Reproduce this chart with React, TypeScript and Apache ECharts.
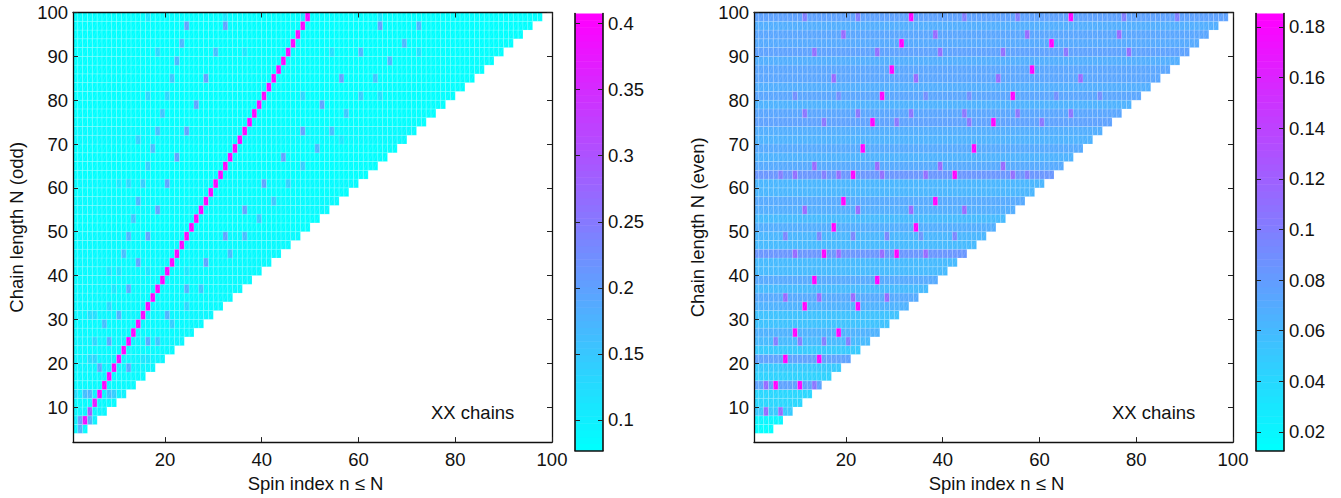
import React, { useEffect, useRef } from "react";
import * as echarts from "echarts";

// lower edge of each row on the "Chain length" axis, bottom to top
const rowEdges = [4,6,8,10,12,14,16,18,20,22,24,26,28,30,32,34,36,38,40,42,44,46,48,50,52,54,56,58,60,62,64,66,68,70,72,74,76,78,80,82,84,86,88,90,92,94,96,98];

// background level of each row (same order as rowEdges)
const leftBase = [0.085,0.095,0.088,0.085,0.095,0.085,0.086,0.09,0.088,0.084,0.09,0.083,0.085,0.088,0.083,0.084,0.087,0.082,0.085,0.082,0.083,0.082,0.084,0.081,0.081,0.082,0.083,0.081,0.085,0.08,0.081,0.08,0.081,0.082,0.082,0.08,0.08,0.08,0.081,0.079,0.081,0.079,0.079,0.081,0.079,0.079,0.08,0.08];
const rightBase = [0.015,0.02,0.05,0.04,0.042,0.075,0.045,0.05,0.075,0.05,0.06,0.065,0.055,0.055,0.065,0.07,0.06,0.07,0.06,0.06,0.085,0.06,0.063,0.068,0.06,0.068,0.07,0.062,0.062,0.085,0.07,0.065,0.07,0.065,0.068,0.075,0.072,0.066,0.072,0.068,0.072,0.072,0.068,0.075,0.07,0.072,0.068,0.075];

// strong ridge of the odd chains: [n, row, value]
const leftRidge = [[3,6,0.385],[4,8,0.29],[5,10,0.37],[6,12,0.4],[7,14,0.4],[8,16,0.4],[9,18,0.4],[10,20,0.39],[11,22,0.4],[12,24,0.4],[13,26,0.4],[14,28,0.4],[15,30,0.4],[16,32,0.4],[17,34,0.4],[18,36,0.4],[19,38,0.4],[20,40,0.4],[21,42,0.4],[22,44,0.4],[23,46,0.4],[24,48,0.4],[25,50,0.4],[26,52,0.4],[27,54,0.4],[28,56,0.4],[29,58,0.4],[30,60,0.4],[31,62,0.4],[32,64,0.4],[33,66,0.4],[34,68,0.4],[35,70,0.4],[36,72,0.4],[37,74,0.4],[38,76,0.4],[39,78,0.4],[40,80,0.4],[41,82,0.4],[42,84,0.4],[43,86,0.4],[44,88,0.4],[45,90,0.4],[46,92,0.4],[47,94,0.4],[48,96,0.4],[49,98,0.4]];
// weaker spots of the odd chains: [n, row, value]
const leftSpots = [[2,4,0.17],[2,6,0.2],[4,6,0.18],[3,12,0.16],[4,12,0.17],[8,12,0.16],[9,12,0.14],[1,12,0.12],[6,18,0.19],[12,18,0.19],[4,20,0.12],[5,20,0.13],[15,20,0.11],[16,20,0.11],[8,24,0.19],[16,24,0.19],[18,24,0.15],[5,24,0.13],[7,28,0.16],[21,28,0.14],[10,30,0.18],[20,30,0.18],[4,30,0.12],[5,30,0.12],[8,32,0.13],[24,32,0.13],[12,36,0.19],[24,36,0.18],[27,36,0.15],[9,36,0.11],[8,40,0.12],[10,40,0.12],[16,40,0.11],[24,40,0.11],[14,42,0.2],[28,42,0.2],[11,44,0.16],[33,44,0.16],[12,48,0.17],[16,48,0.2],[32,48,0.2],[36,48,0.16],[13,52,0.15],[39,52,0.15],[18,54,0.2],[36,54,0.2],[14,56,0.17],[42,56,0.15],[20,60,0.2],[40,60,0.2],[15,60,0.14],[45,60,0.14],[12,60,0.13],[10,60,0.11],[16,64,0.14],[48,64,0.14],[22,66,0.2],[44,66,0.2],[17,68,0.16],[51,68,0.17],[14,70,0.14],[56,70,0.11],[18,72,0.16],[24,72,0.2],[48,72,0.2],[54,72,0.16],[19,76,0.15],[57,76,0.15],[26,78,0.2],[52,78,0.2],[16,80,0.13],[20,80,0.13],[48,80,0.13],[60,80,0.14],[64,80,0.12],[21,84,0.15],[28,84,0.2],[56,84,0.2],[63,84,0.15],[22,88,0.17],[66,88,0.17],[18,90,0.13],[30,90,0.16],[36,90,0.11],[54,90,0.12],[60,90,0.17],[72,90,0.12],[23,92,0.17],[69,92,0.17],[24,96,0.2],[32,96,0.2],[64,96,0.2],[72,96,0.17],[16,98,0.11],[32,98,0.11],[48,98,0.11],[64,98,0.11]];

// strong spots of the even chains: [n, row, value]
const rightHot = [[33,98],[66,98],[31,92],[62,92],[29,86],[58,86],[27,80],[54,80],[25,74],[50,74],[23,68],[46,68],[21,62],[42,62],[19,56],[38,56],[17,50],[34,50],[15,44],[30,44],[13,38],[26,38],[11,32],[22,32],[9,26],[18,26],[7,20],[14,20],[5,14],[10,14]];
const rightHotValue = 0.185;
// weaker spots of the even chains: [n, row, value]
const rightSpots = [[11,98,0.1],[22,98,0.1],[44,98,0.1],[55,98,0.1],[77,98,0.1],[88,98,0.1],[19,94,0.115],[38,94,0.115],[57,94,0.115],[76,94,0.115],[13,90,0.11],[26,90,0.11],[39,90,0.11],[52,90,0.11],[65,90,0.105],[78,90,0.11],[17,84,0.115],[34,84,0.115],[51,84,0.115],[68,84,0.115],[9,80,0.09],[18,80,0.09],[36,80,0.09],[45,80,0.09],[63,80,0.09],[72,80,0.09],[11,76,0.105],[22,76,0.105],[33,76,0.105],[44,76,0.105],[55,76,0.105],[66,76,0.105],[15,74,0.105],[30,74,0.105],[45,74,0.105],[60,74,0.105],[13,64,0.115],[26,64,0.115],[39,64,0.115],[52,64,0.115],[9,62,0.11],[18,62,0.11],[27,62,0.11],[36,62,0.11],[54,62,0.11],[57,62,0.1],[6,62,0.1],[15,62,0.1],[11,54,0.115],[22,54,0.115],[33,54,0.115],[44,54,0.115],[7,48,0.095],[14,48,0.095],[21,48,0.095],[28,48,0.095],[35,48,0.085],[42,48,0.095],[9,44,0.115],[18,44,0.115],[27,44,0.115],[36,44,0.115],[7,34,0.115],[14,34,0.115],[21,34,0.115],[28,34,0.115],[5,24,0.1],[10,24,0.1],[15,24,0.1],[20,24,0.1],[3,14,0.115],[13,14,0.105],[3,8,0.115],[6,8,0.115]];

const leftRange = [0.0768, 0.4077];
const rightRange = [0.01265, 0.1853];
const leftBarTicks = [0.1, 0.15, 0.2, 0.25, 0.3, 0.35, 0.4];
const rightBarTicks = [0.02, 0.04, 0.06, 0.08, 0.1, 0.12, 0.14, 0.16, 0.18];
const xTicks = [20, 40, 60, 80, 100];
const yTicks = [10, 20, 30, 40, 50, 60, 70, 80, 90, 100];
const FONT = "Liberation Sans";
const FS = 18.5;
const LEVELS = 64;

function cool(v: number, range: number[]) {
  let t = (v - range[0]) / (range[1] - range[0]);
  t = Math.max(0, Math.min(1, t));
  const k = Math.min(LEVELS - 1, Math.floor(t * LEVELS)) / (LEVELS - 1);
  return `rgb(${Math.round(255 * k)},${Math.round(255 * (1 - k))},255)`;
}

function cells(base: number[], extra: number, peaks: number[][]) {
  const out: number[][] = [];
  rowEdges.forEach((row, r) => {
    for (let n = 1; n <= row - 1 + extra; n++) out.push([n, row, base[r]]);
  });
  const index = new Map(out.map((c) => [c[0] + ":" + c[1], c]));
  peaks.forEach(([n, row, v]) => {
    const c = index.get(n + ":" + row);
    if (c) c[2] = v;
  });
  return out;
}

const cellRenderer = (range: number[]) => (_p: any, api: any) => {
  const n = api.value(0), row = api.value(1), v = api.value(2);
  const a = api.coord([n, row]);
  const b = api.coord([n + 1, Math.min(row + 2, 100)]);
  const fill = cool(v, range);
  return {
    type: "group",
    children: [
      { type: "rect", shape: { x: a[0], y: b[1], width: b[0] - a[0], height: a[1] - b[1] },
        style: { fill, stroke: "rgba(255,255,255,0.28)", lineWidth: 0.6 } },
      { type: "line", shape: { x1: a[0] + 0.8, y1: a[1] - 0.8, x2: b[0] - 0.8, y2: b[1] + 0.8 },
        style: { stroke: "rgba(255,255,255,0.22)", lineWidth: 0.5 } },
    ],
  };
};

const barRenderer = (range: number[]) => (_p: any, api: any) => {
  const i = api.value(0);
  const lo = range[0] + ((range[1] - range[0]) * i) / LEVELS;
  const hi = range[0] + ((range[1] - range[0]) * (i + 1)) / LEVELS;
  const a = api.coord([0, lo]);
  const b = api.coord([1, hi]);
  return { type: "rect", shape: { x: a[0], y: b[1], width: b[0] - a[0], height: a[1] - b[1] + 0.5 },
    style: { fill: cool((lo + hi) / 2, range) } };
};

const line = { show: true, onZero: false, lineStyle: { color: "#111", width: 1.3 } };
const tick = (values: number[]) => ({ show: true, inside: true, length: 5, customValues: values, lineStyle: { color: "#222", width: 1 } });
const labelStyle = { fontFamily: FONT, fontSize: FS, color: "#111" };

function plotAxes(g: number, yName: string) {
  const x = { type: "value", gridIndex: g, min: 1, max: 100, splitLine: { show: false }, axisLine: line, z: 5 };
  const y = { type: "value", gridIndex: g, min: 2, max: 100, splitLine: { show: false }, axisLine: line, z: 5 };
  return {
    xAxis: [
      { ...x, position: "bottom", axisTick: tick(xTicks),
        axisLabel: { ...labelStyle, margin: 8, customValues: xTicks },
        name: "Spin index n ≤ N", nameLocation: "middle", nameGap: 28,
        nameTextStyle: { ...labelStyle, padding: [0, 0, 0, 6] } },
      { ...x, position: "top", axisTick: tick(xTicks), axisLabel: { show: false } },
    ],
    yAxis: [
      { ...y, position: "left", axisTick: tick(yTicks),
        axisLabel: { ...labelStyle, margin: 5, customValues: yTicks },
        name: yName, nameLocation: "middle", nameGap: 47, nameTextStyle: labelStyle },
      { ...y, position: "right", axisTick: tick(yTicks), axisLabel: { show: false } },
    ],
  };
}

function barAxes(g: number, range: number[], ticks: number[]) {
  const y = { type: "value", gridIndex: g, min: range[0], max: range[1], splitLine: { show: false }, z: 5,
    axisLine: { show: true, onZero: false, lineStyle: { color: "#111", width: 1.6 } } };
  return {
    xAxis: [{ type: "value", gridIndex: g, min: 0, max: 1, axisTick: { show: false }, axisLabel: { show: false }, splitLine: { show: false }, z: 5,
      axisLine: { show: true, onZero: false, lineStyle: { color: "#111", width: 1.6 } } }],
    yAxis: [
      { ...y, position: "right", axisTick: tick(ticks),
        axisLabel: { ...labelStyle, margin: 5, customValues: ticks, formatter: (v: number) => String(v) } },
      { ...y, position: "left", axisTick: tick(ticks), axisLabel: { show: false } },
    ],
  };
}

export default function App() {
  const ref = useRef<HTMLDivElement>(null);
  useEffect(() => {
    document.body.style.margin = "0";
    const chart = echarts.init(ref.current!, undefined, { renderer: "svg" });
    const pa = plotAxes(0, "Chain length N (odd)");
    const ba = barAxes(1, leftRange, leftBarTicks);
    const pb = plotAxes(2, "Chain length N (even)");
    const bb = barAxes(3, rightRange, rightBarTicks);
    const xAxis = [...pa.xAxis, ...ba.xAxis, ...pb.xAxis, ...bb.xAxis];
    const yAxis = [...pa.yAxis, ...ba.yAxis, ...pb.yAxis, ...bb.yAxis];
    const levels = Array.from({ length: LEVELS }, (_, i) => [i]);
    const hot = rightHot.map(([n, row]) => [n, row, rightHotValue]);
    chart.setOption({
      animation: false,
      grid: [
        { left: 73, top: 12.5, width: 479, height: 435 },
        { left: 575, top: 13.5, width: 28, height: 437 },
        { left: 754, top: 12.5, width: 479, height: 435 },
        { left: 1256, top: 13.5, width: 28, height: 437 },
      ],
      xAxis,
      yAxis,
      series: [
        { type: "custom", xAxisIndex: 0, yAxisIndex: 0, renderItem: cellRenderer(leftRange), data: cells(leftBase, 0, [...leftSpots, ...leftRidge]), encode: { x: 0, y: 1 }, silent: true },
        { type: "custom", xAxisIndex: 2, yAxisIndex: 2, renderItem: barRenderer(leftRange), data: levels, silent: true },
        { type: "custom", xAxisIndex: 3, yAxisIndex: 4, renderItem: cellRenderer(rightRange), data: cells(rightBase, 1, [...rightSpots, ...hot]), encode: { x: 0, y: 1 }, silent: true },
        { type: "custom", xAxisIndex: 5, yAxisIndex: 6, renderItem: barRenderer(rightRange), data: levels, silent: true },
      ],
      graphic: [
        { type: "text", left: 431, top: 403, z: 10, style: { text: "XX chains", fontFamily: FONT, fontSize: FS, fill: "#111" } },
        { type: "text", left: 1112, top: 403, z: 10, style: { text: "XX chains", fontFamily: FONT, fontSize: FS, fill: "#111" } },
      ],
    });
    return () => chart.dispose();
  }, []);
  return <div ref={ref} style={{ position: "absolute", left: 0, top: 0, width: 1341, height: 498 }} />;
}
